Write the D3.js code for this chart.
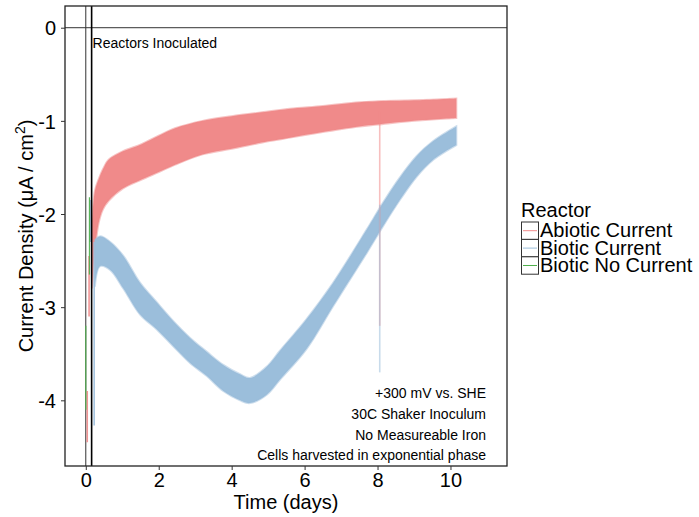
<!DOCTYPE html>
<html>
<head>
<meta charset="utf-8">
<script src="https://cdn.jsdelivr.net/npm/d3@7"></script>
<style>
body { margin: 0; background: white; }
text { font-family: "Liberation Sans", Arial, sans-serif; }
</style>
</head>
<body>
<svg id="chart"></svg>
<script>
var width = 699, height = 517

// series envelopes: [day, low, high]
var abioticBand = [
    [0.17, -2.8, -2.1], [0.25, -2.4, -1.75], [0.35, -2.1, -1.63], [0.47, -1.95, -1.52],
    [0.62, -1.86, -1.42], [1.0, -1.73, -1.33], [1.53, -1.63, -1.25], [2.0, -1.55, -1.16],
    [2.45, -1.47, -1.08], [3.2, -1.36, -1.0], [4.0, -1.3, -0.95], [5.0, -1.22, -0.9],
    [5.6, -1.18, -0.87], [6.5, -1.12, -0.84], [7.5, -1.06, -0.8], [8.0, -1.04, -0.79],
    [9.0, -1.0, -0.78], [10.16, -0.97, -0.76]
]
var bioticBand = [
    [0.25, -2.78, -2.28], [0.39, -2.56, -2.24], [0.67, -2.6, -2.3], [1.03, -2.8, -2.45],
    [1.49, -3.08, -2.74], [1.95, -3.24, -2.95], [2.4, -3.42, -3.15], [2.86, -3.6, -3.33],
    [3.32, -3.74, -3.48], [3.77, -3.9, -3.62], [4.23, -4.0, -3.72], [4.5, -4.03, -3.76],
    [4.96, -3.94, -3.64], [5.32, -3.78, -3.47], [6.05, -3.45, -3.13], [6.78, -2.99, -2.74],
    [7.7, -2.42, -2.17], [8.15, -2.13, -1.88], [8.61, -1.85, -1.61], [9.07, -1.6, -1.38],
    [9.52, -1.42, -1.22], [10.16, -1.26, -1.06]
]
// single vertical excursions: [day, low, high]
var abioticSpikes = [[0.04, -4.45, -3.9], [0.09, -3.1, -2.45], [8.06, -3.2, -0.9]]
var bioticSpikes = [[0.12, -2.3, -1.85], [0.23, -4.27, -2.3], [8.06, -3.7, -1.9]]
var noCurrentSpikes = [[0.0, -4.1, -3.2], [0.1, -2.65, -1.82]]

var reactors = ["Abiotic Current", "Biotic Current", "Biotic No Current"]
var colors = ["#f08a8a", "#9bbedb", "#4daf4a"]
var xTicks = [0, 2, 4, 6, 8, 10]
var yTicks = [0, -1, -2, -3, -4]
var inoculatedDay = 0.16
var notes = ["+300 mV vs. SHE", "30C Shaker Inoculum", "No Measureable Iron", "Cells harvested in exponential phase"]

var svg = d3.select("#chart")
    .attr("width", width)
    .attr("height", height)
    .style("background", "white")

var x = d3.scaleLinear().domain([-0.57, 11.55]).range([65, 507])
var y = d3.scaleLinear().domain([-4.705, 0.233]).range([466, 6])

var g = svg.append("g")
svg.append("clipPath").attr("id", "clip")
    .append("rect").attr("x", 65).attr("y", 6).attr("width", 442).attr("height", 460)
var plot = g.append("g").attr("clip-path", "url(#clip)")

// reference lines
plot.append("line")
    .attr("x1", 65).attr("x2", 507)
    .attr("y1", y(0)).attr("y2", y(0))
    .attr("stroke", "#333").attr("stroke-width", 1)
plot.append("line")
    .attr("x1", x(0)).attr("x2", x(0))
    .attr("y1", 6).attr("y2", 466)
    .attr("stroke", "#333").attr("stroke-width", 1)

var area = d3.area()
    .x(function(d) { return x(d[0]) })
    .y0(function(d) { return y(d[1]) })
    .y1(function(d) { return y(d[2]) })
    .curve(d3.curveCatmullRom)

var bands = [abioticBand, bioticBand]
var spikes = [abioticSpikes, bioticSpikes, noCurrentSpikes]

bands.forEach(function(band, i) {
    plot.append("path")
        .datum(band)
        .attr("d", area)
        .attr("fill", colors[i])
        .attr("stroke", colors[i])
        .attr("stroke-opacity", 0.5)
        .attr("stroke-width", 2)
})

spikes.forEach(function(s, i) {
    plot.selectAll(null)
        .data(s)
        .enter()
        .append("line")
            .attr("x1", function(d) { return x(d[0]) })
            .attr("x2", function(d) { return x(d[0]) })
            .attr("y1", function(d) { return y(d[1]) })
            .attr("y2", function(d) { return y(d[2]) })
            .attr("stroke", colors[i])
            .attr("stroke-width", i == 2 ? 1.2 : 1.6)
            .attr("stroke-opacity", function(d) { return d[0] > 1 ? 0.55 : 0.9 })
})

plot.append("line")
    .attr("x1", x(inoculatedDay)).attr("x2", x(inoculatedDay))
    .attr("y1", 6).attr("y2", 466)
    .attr("stroke", "black").attr("stroke-width", 1.6)

g.append("text")
    .attr("x", x(inoculatedDay) + 1)
    .attr("y", 48)
    .attr("font-size", 14)
    .attr("fill", "black")
    .text("Reactors Inoculated")

g.selectAll(".note")
    .data(notes)
    .enter()
    .append("text")
        .attr("class", "note")
        .attr("x", 486)
        .attr("y", function(d, i) { return 398 + i * 20.8 })
        .attr("text-anchor", "end")
        .attr("font-size", 14)
        .text(function(d) { return d })

// panel border
g.append("rect")
    .attr("x", 65).attr("y", 6)
    .attr("width", 442).attr("height", 460)
    .attr("fill", "none")
    .attr("stroke", "#222")
    .attr("stroke-width", 1.3)

// axes
var xAxis = g.append("g")
    .attr("transform", "translate(0,466)")
    .call(d3.axisBottom(x).tickValues(xTicks).tickSize(4).tickPadding(3).tickFormat(function(d) { return d }))
var yAxis = g.append("g")
    .attr("transform", "translate(65,0)")
    .call(d3.axisLeft(y).tickValues(yTicks).tickSize(4).tickPadding(5).tickFormat(function(d) { return String(d) }))
;[xAxis, yAxis].forEach(function(a) {
    a.select(".domain").remove()
    a.selectAll(".tick line").attr("stroke", "#333")
    a.selectAll(".tick text")
        .attr("font-size", 20)
        .attr("fill", "black")
        .style("font-family", "'Liberation Sans', Arial, sans-serif")
})
yAxis.selectAll(".tick text").attr("dy", "0.36em")
xAxis.selectAll(".tick text").attr("dy", "0.72em")

g.append("text")
    .attr("x", 286)
    .attr("y", 509)
    .attr("text-anchor", "middle")
    .attr("font-size", 20)
    .text("Time (days)")

var ylab = g.append("text")
    .attr("transform", "translate(33,236) rotate(-90)")
    .attr("text-anchor", "middle")
    .attr("font-size", 20)
ylab.append("tspan").text("Current Density (\u03bcA / cm")
ylab.append("tspan").attr("font-size", 14).attr("dy", -8).text("2")
ylab.append("tspan").attr("dy", 8).text(")")

// legend
var legend = svg.append("g").attr("transform", "translate(521,0)")
legend.append("text")
    .attr("x", 0).attr("y", 217)
    .attr("font-size", 20)
    .text("Reactor")
var keys = legend.selectAll(".key")
    .data(reactors)
    .enter()
    .append("g")
        .attr("class", "key")
        .attr("transform", function(d, i) { return "translate(0," + (222 + i * 17.4) + ")" })
keys.append("rect")
    .attr("x", 0.5).attr("y", 0)
    .attr("width", 17).attr("height", 17.4)
    .attr("fill", "white")
    .attr("stroke", "#333")
    .attr("stroke-width", 1)
keys.append("line")
    .attr("x1", 2).attr("x2", 16)
    .attr("y1", 8.7).attr("y2", 8.7)
    .attr("stroke", function(d, i) { return colors[i] })
    .attr("stroke-width", 1)
keys.append("text")
    .attr("x", 19)
    .attr("y", 15.3)
    .attr("font-size", 20)
    .text(function(d) { return d })
</script>
</body>
</html>
